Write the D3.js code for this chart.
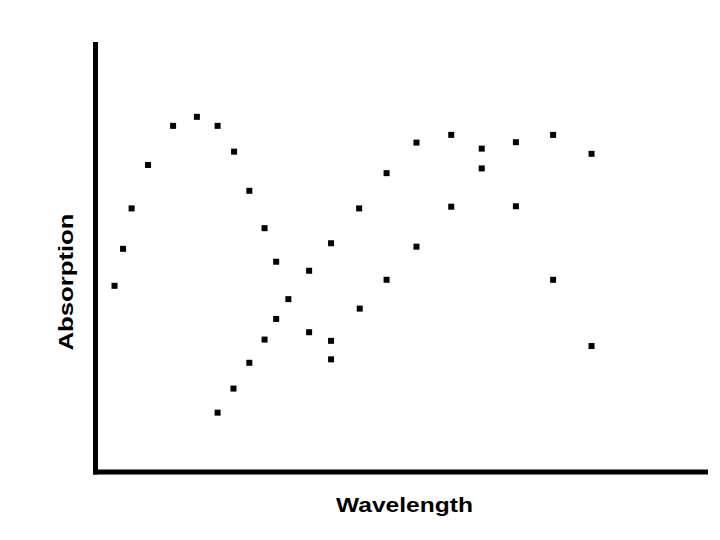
<!DOCTYPE html>
<html>
<head>
<meta charset="utf-8">
<script src="https://cdn.jsdelivr.net/npm/d3@7"></script>
<style>
  html, body { margin: 0; padding: 0; background: #fff; }
  svg { display: block; }
</style>
</head>
<body>
<svg id="chart" width="720" height="540"></svg>
<script>
// Data (arbitrary units, no tick labels in the original)
const wavelength = [3.2, 4.6, 6.0, 8.7, 12.8, 16.7, 20.1, 22.8, 25.3, 27.8,
  29.7, 31.7, 35.1, 38.7, 43.3, 47.8, 52.7, 58.4, 63.4, 69.0,
  75.1, 81.4, 63.4, 58.4, 69.0, 52.7, 47.8, 75.1, 43.4, 81.4,
  29.7, 35.1, 27.8, 38.7, 25.3, 38.7, 22.7, 20.1];
const absorption = [43.3, 51.9, 61.3, 71.4, 80.5, 82.6, 80.5, 74.5, 65.4, 56.7,
  48.9, 40.2, 46.8, 53.2, 61.3, 69.5, 76.6, 78.4, 75.2, 76.7,
  78.4, 74.0, 70.6, 61.7, 61.8, 52.4, 44.7, 44.7, 38.0, 29.3,
  35.6, 32.5, 30.8, 30.5, 25.4, 26.2, 19.4, 13.8];
const xLabel = "Wavelength";
const yLabel = "Absorption";

const svg = d3.select("#chart");
const x = d3.scaleLinear().domain([0, 100]).range([95, 705]);
const y = d3.scaleLinear().domain([0, 100]).range([472, 42]);

const pts = wavelength.map((w, i) => ({ w, a: absorption[i] }));

// axes as thick lines
const yAxis = d3.axisLeft(y).ticks(0).tickSize(0);
const xAxis = d3.axisBottom(x).ticks(0).tickSize(0);
const gy = svg.append("g").attr("transform", "translate(95.5,0)").call(yAxis);
const gx = svg.append("g").attr("transform", "translate(0,472)").call(xAxis);
[gx, gy].forEach(g => {
  g.selectAll("text").remove();
  g.select(".domain").attr("stroke", "#000").attr("stroke-width", 5).attr("fill", "none");
});
gy.select(".domain").attr("d", `M0,${y(100)}V${y(0) + 2.5}`);
gx.select(".domain").attr("d", `M${x(0) - 2},0H708`);

// points
const s = 6;
svg.append("g").selectAll("rect").data(pts).join("rect")
  .attr("x", d => x(d.w) - s / 2)
  .attr("y", d => y(d.a) - s / 2)
  .attr("width", s).attr("height", s)
  .attr("fill", "#000");

// labels
svg.append("text")
  .attr("x", 404.5).attr("y", 512)
  .attr("text-anchor", "middle")
  .attr("font-family", "Liberation Sans, Arial, sans-serif")
  .attr("font-weight", "bold").attr("font-size", 21)
  .attr("textLength", 137).attr("lengthAdjust", "spacingAndGlyphs")
  .text(xLabel);

svg.append("text")
  .attr("transform", "translate(72.5,282) rotate(-90)")
  .attr("text-anchor", "middle")
  .attr("font-family", "Liberation Sans, Arial, sans-serif")
  .attr("font-weight", "bold").attr("font-size", 21)
  .attr("textLength", 137).attr("lengthAdjust", "spacingAndGlyphs")
  .text(yLabel);
</script>
</body>
</html>
